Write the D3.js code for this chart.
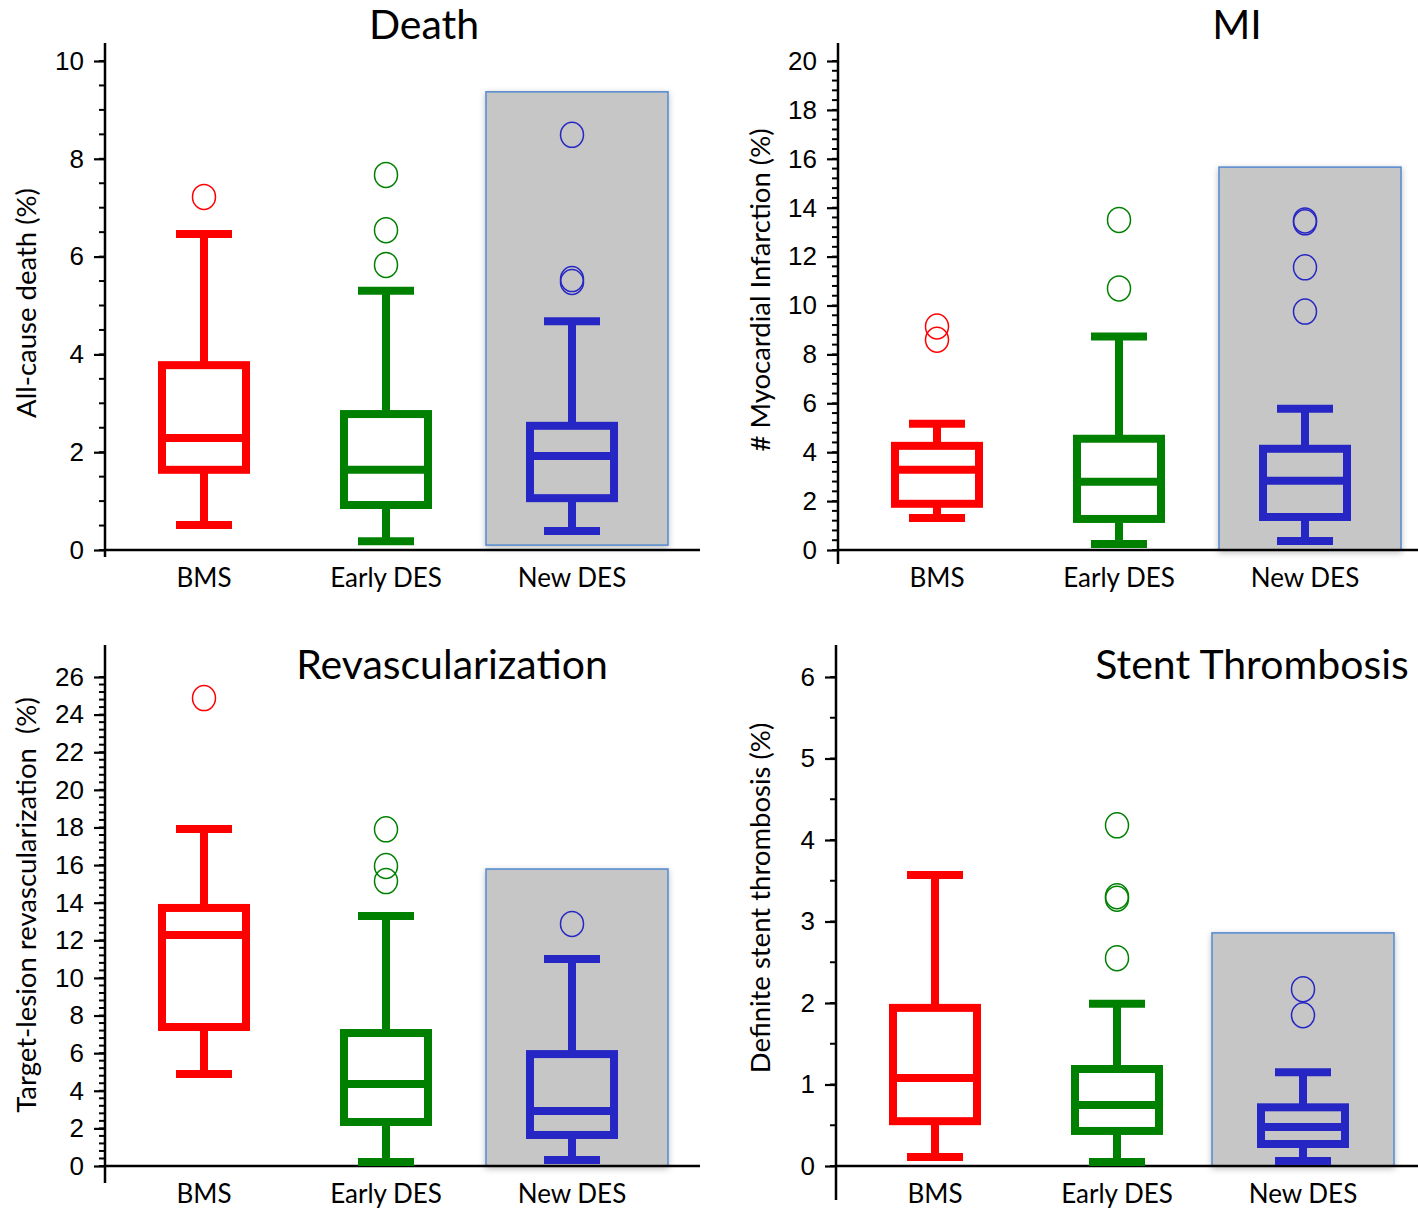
<!DOCTYPE html>
<html>
<head>
<meta charset="utf-8">
<script src="https://cdn.jsdelivr.net/npm/d3@7"></script>
<style>
  body { margin: 0; background: #fff; }
  svg { display: block; font-family: Lato, "Open Sans", sans-serif; }
  .tick text { font-size: 26px; fill: #000; }
  .cat { font-size: 26px; }
  .title { font-size: 41px; }
  .ytitle { font-size: 27.5px; white-space: pre; }
</style>
</head>
<body>
<svg id="chart" width="1418" height="1210"></svg>
<script>
// categories and colours
const categories = ['BMS', 'Early DES', 'New DES'];
const colors = ['#ff0000', '#008000', '#2626c4'];

// box stats per panel: [lowWhisker, q1, median, q3, highWhisker]
const deathStats = [[0.51, 1.64, 2.29, 3.78, 6.46], [0.18, 0.92, 1.64, 2.78, 5.30], [0.39, 1.06, 1.92, 2.54, 4.68]];
const deathOutliers = [[7.22], [7.67, 6.54, 5.83], [8.49, 5.54, 5.48]];

const miStats = [[1.31, 1.89, 3.28, 4.26, 5.16], [0.25, 1.27, 2.79, 4.55, 8.73], [0.37, 1.35, 2.83, 4.14, 5.78]];
const miOutliers = [[9.14, 8.6], [13.5, 10.7], [13.48, 13.4, 11.56, 9.75]];

const revascStats = [[4.89, 7.39, 12.28, 13.72, 17.92], [0.21, 2.34, 4.36, 7.07, 13.29], [0.32, 1.65, 2.92, 5.95, 11.0]];
const revascOutliers = [[24.88], [17.9, 15.95, 15.15], [12.87]];

const stStats = [[0.11, 0.55, 1.08, 1.94, 3.57], [0.05, 0.43, 0.75, 1.19, 1.99], [0.06, 0.27, 0.48, 0.72, 1.15]];
const stOutliers = [[], [4.18, 3.31, 3.28, 2.55], [2.17, 1.85]];

// highlighted New DES region (value range)
const deathHighlight = [0.1, 9.37];
const miHighlight = [0, 15.66];
const revascHighlight = [0, 15.79];
const stHighlight = [0, 2.86];

const panels = [
  { title: 'Death', ytitle: 'All-cause death (%)', max: 10, step: 2, minor: 0.5,
    stats: deathStats, outliers: deathOutliers, highlight: deathHighlight,
    ox: 105, top: 61, bottom: 550, axisEnd: 700, axisTop: 43, axisBot: 557,
    titleX: 424, titleY: 39, ytitleX: 36, ytitleY: 303, hlShift: 5 },
  { title: 'MI', ytitle: '# Myocardial Infarction (%)', max: 20, step: 2, minor: 0.4,
    stats: miStats, outliers: miOutliers, highlight: miHighlight,
    ox: 838, top: 61, bottom: 550, axisEnd: 1418, axisTop: 43, axisBot: 564,
    titleX: 1237, titleY: 39, ytitleX: 770, ytitleY: 290, hlShift: 5 },
  { title: 'Revascularization', ytitle: 'Target-lesion revascularization  (%)', max: 26, step: 2, minor: 0.4,
    stats: revascStats, outliers: revascOutliers, highlight: revascHighlight,
    ox: 105, top: 677, bottom: 1166, axisEnd: 700, axisTop: 645, axisBot: 1183,
    titleX: 452, titleY: 679, ytitleX: 36, ytitleY: 905, hlShift: 5 },
  { title: 'Stent Thrombosis', ytitle: 'Definite stent thrombosis (%)', max: 6, step: 1, minor: 0.5,
    stats: stStats, outliers: stOutliers, highlight: stHighlight,
    ox: 836, top: 677, bottom: 1166, axisEnd: 1418, axisTop: 645, axisBot: 1200,
    titleX: 1252, titleY: 679, ytitleX: 770, ytitleY: 898, hlShift: 0 }
];

const svg = d3.select('#chart');

const defs = svg.append('defs');
const shadow = defs.append('filter').attr('id', 'shadow')
  .attr('x', '-10%').attr('y', '-10%').attr('width', '120%').attr('height', '120%');
shadow.append('feDropShadow').attr('dx', 0).attr('dy', 2).attr('stdDeviation', 3)
  .attr('flood-color', '#000').attr('flood-opacity', 0.25);

panels.forEach(p => {
  const g = svg.append('g');
  const y = d3.scaleLinear().domain([0, p.max]).range([p.bottom, p.top]);
  const x = d3.scaleOrdinal().domain(categories).range([p.ox + 99, p.ox + 281, p.ox + 467]);

  // highlighted area behind New DES
  const hx = x('New DES') + p.hlShift;
  g.append('rect')
    .attr('x', hx - 91).attr('width', 182)
    .attr('y', y(p.highlight[1])).attr('height', y(p.highlight[0]) - y(p.highlight[1]))
    .attr('fill', '#c6c6c6').attr('stroke', '#5b8ed0').attr('stroke-width', 1.6)
    .attr('filter', 'url(#shadow)');

  // minor ticks
  const minorTicks = d3.range(0, p.max + 1e-9, p.minor);
  g.append('g').selectAll('line').data(minorTicks).join('line')
    .attr('x1', p.ox - 6).attr('x2', p.ox)
    .attr('y1', d => y(d)).attr('y2', d => y(d))
    .attr('stroke', '#000').attr('stroke-width', 2);

  // y axis
  const yAxis = d3.axisLeft(y).tickValues(d3.range(0, p.max + 1e-9, p.step))
    .tickSize(11).tickPadding(10).tickFormat(d3.format('d'));
  const ya = g.append('g').attr('transform', `translate(${p.ox},0)`).call(yAxis);
  ya.select('.domain').remove();
  ya.selectAll('.tick line').attr('stroke-width', 2.2);

  // axis lines
  g.append('line').attr('x1', p.ox).attr('x2', p.ox).attr('y1', p.axisTop).attr('y2', p.axisBot)
    .attr('stroke', '#000').attr('stroke-width', 2.5);
  g.append('line').attr('x1', p.ox).attr('x2', p.axisEnd).attr('y1', p.bottom).attr('y2', p.bottom)
    .attr('stroke', '#000').attr('stroke-width', 2.5);

  // category labels
  g.selectAll('text.cat').data(categories).join('text')
    .attr('class', 'cat')
    .attr('x', d => x(d)).attr('y', p.bottom + 37)
    .attr('text-anchor', 'middle').text(d => d);

  // boxes
  const sw = 8;
  categories.forEach((c, i) => {
    const [lo, q1, med, q3, hi] = p.stats[i];
    const cx = x(c);
    const col = colors[i];
    const bg = g.append('g').attr('stroke', col).attr('stroke-width', sw).attr('fill', 'none');
    // whiskers
    bg.append('line').attr('x1', cx).attr('x2', cx).attr('y1', y(hi)).attr('y2', y(q3));
    bg.append('line').attr('x1', cx).attr('x2', cx).attr('y1', y(q1)).attr('y2', y(lo));
    // caps
    bg.append('line').attr('x1', cx - 28).attr('x2', cx + 28).attr('y1', y(hi)).attr('y2', y(hi));
    bg.append('line').attr('x1', cx - 28).attr('x2', cx + 28).attr('y1', y(lo)).attr('y2', y(lo));
    // box
    bg.append('rect').attr('x', cx - 42).attr('width', 84)
      .attr('y', y(q3)).attr('height', y(q1) - y(q3));
    bg.append('line').attr('x1', cx - 42).attr('x2', cx + 42).attr('y1', y(med)).attr('y2', y(med));
    // outliers
    g.append('g').selectAll('ellipse').data(p.outliers[i]).join('ellipse')
      .attr('cx', cx).attr('cy', d => y(d)).attr('rx', 11.5).attr('ry', 12.5)
      .attr('fill', 'none').attr('stroke', col).attr('stroke-width', 1.5);
  });

  // titles
  g.append('text').attr('class', 'title')
    .attr('x', p.titleX).attr('y', p.titleY).attr('text-anchor', 'middle').text(p.title);
  g.append('text').attr('class', 'ytitle')
    .attr('transform', `translate(${p.ytitleX},${p.ytitleY}) rotate(-90)`)
    .attr('text-anchor', 'middle').text(p.ytitle);
});
</script>
</body>
</html>
